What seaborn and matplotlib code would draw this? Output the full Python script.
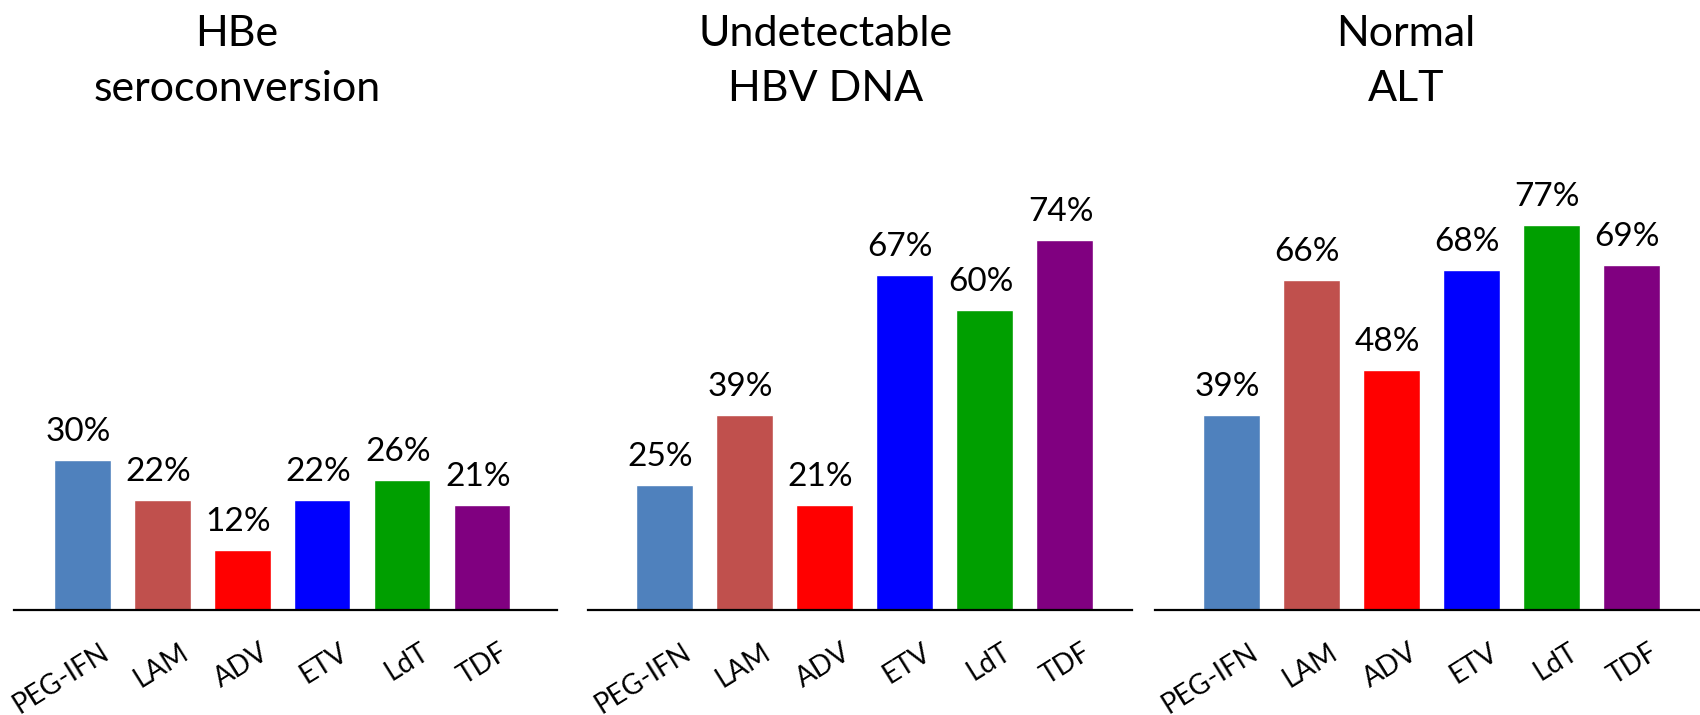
import matplotlib
matplotlib.use("Agg")
import matplotlib.pyplot as plt
import matplotlib.transforms as mtransforms
import seaborn as sns

# Drug names shared by all three panels
drugs = ["PEG-IFN", "LAM", "ADV", "ETV", "LdT", "TDF"]
drug_colors = ["#4F81BD", "#C0504D", "#FF0000", "#0000FF", "#009F00", "#800080"]

# Response rates (%) per outcome
hbe_seroconversion = [30, 22, 12, 22, 26, 21]
undetectable_dna = [25, 39, 21, 67, 60, 74]
normal_alt = [39, 66, 48, 68, 77, 69]

panel_titles = [("HBe", "seroconversion"), ("Undetectable", "HBV DNA"), ("Normal", "ALT")]
panel_values = [hbe_seroconversion, undetectable_dna, normal_alt]

sns.set_theme(style="white")
plt.rcParams["font.family"] = ["Lato", "DejaVu Sans"]

W, H = 1700, 715
fig = plt.figure(figsize=(W / 100, H / 100), dpi=100)

# axes placement in pixels: left edge, right edge, x-limits
layout = [
    (14, 557, (-0.856, 5.94)),
    (588, 1132, (-0.956, 5.84)),
    (1155, 1700, (-0.957, 5.855)),
]
title_x = [237, 826, 1406]
base_y = 610      # pixel row of the baseline
px_per_unit = 5.0
ymax = 90

for (x0, x1, xlim), vals, (t1, t2), tx in zip(layout, panel_values, panel_titles, title_x):
    ax = fig.add_axes([x0 / W, (H - base_y) / H, (x1 - x0) / W, ymax * px_per_unit / H])
    sns.barplot(x=drugs, y=vals, hue=drugs, palette=drug_colors, width=0.71,
                legend=False, saturation=1, ax=ax)
    ax.set_xlim(*xlim)
    ax.set_ylim(0, ymax)
    ax.set_xlabel("")
    ax.set_ylabel("")
    ax.set_yticks([])
    for s in ["top", "right", "left"]:
        ax.spines[s].set_visible(False)
    ax.spines["bottom"].set_color("black")
    ax.spines["bottom"].set_linewidth(1.6)
    ax.tick_params(axis="x", length=0, pad=0)

    # value labels above bars
    for i, v in enumerate(vals):
        ax.annotate(f"{v}%", xy=(i, v), xytext=(-3, 14), textcoords="offset points",
                    ha="center", va="baseline", fontsize=24, color="black")

    # rotated category labels anchored at their right end
    ax.set_xticks(range(len(drugs)))
    ax.set_xticklabels(drugs, rotation=32, ha="right", va="center",
                       rotation_mode="anchor", fontsize=20, color="black")
    offset = mtransforms.ScaledTranslation(24 / 100, -40 / 100, fig.dpi_scale_trans)
    for lab in ax.get_xticklabels():
        lab.set_transform(lab.get_transform() + offset)

    fig.text(tx / W, 1 - 46 / H, t1, ha="center", va="baseline", fontsize=31, color="black")
    fig.text(tx / W, 1 - 101 / H, t2, ha="center", va="baseline", fontsize=31, color="black")

fig.savefig("out.png", dpi=100, facecolor="white")
